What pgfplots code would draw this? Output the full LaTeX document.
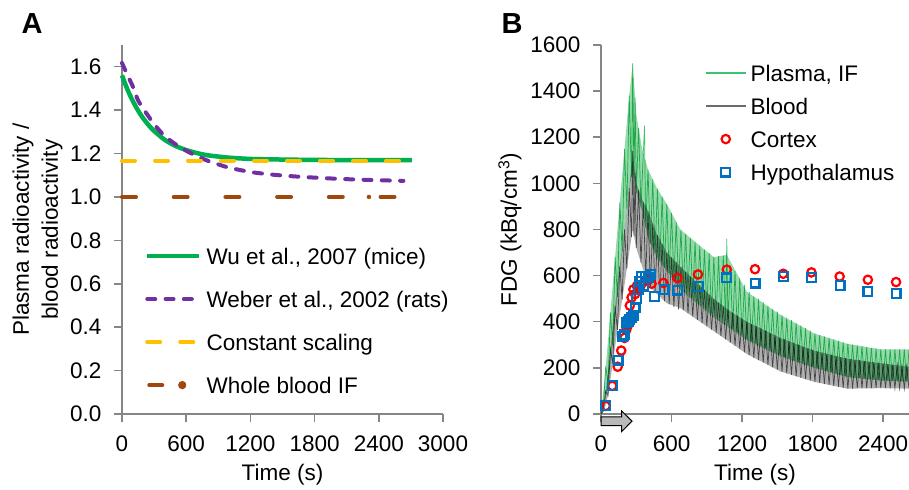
\documentclass[border=0pt]{standalone}
\usepackage{fontspec}
\setmainfont{Liberation Sans}
\usepackage{pgfplots}
\pgfplotsset{compat=1.18}
\definecolor{axgray}{RGB}{134,134,134}
\definecolor{wugreen}{RGB}{0,176,80}
\definecolor{webpurple}{RGB}{112,48,160}
\definecolor{constyellow}{RGB}{255,192,0}
\definecolor{wbbrown}{RGB}{158,72,14}
\definecolor{plasmaline}{RGB}{60,195,110}
\definecolor{plasmafill}{RGB}{120,210,150}
\definecolor{bloodline}{RGB}{70,70,70}
\definecolor{bloodfill}{RGB}{150,150,150}
\definecolor{cortexred}{RGB}{255,0,0}
\definecolor{hypoblue}{RGB}{0,112,192}
\newcommand{\fs}{\fontsize{22.5bp}{27bp}\selectfont}
\pgfplotsset{
  panel/.style={
    scale only axis,
    axis lines=left,
    axis line style={-, draw=axgray, line width=1.5bp},
    tick style={draw=axgray, line width=1.5bp},
    tick align=outside,
    major tick length=8bp,
    scaled ticks=false,
    /pgf/number format/assume math mode=true,
    /pgf/number format/1000 sep={},
    tick label style={font=\fs, black},
    xticklabel style={yshift=-10bp},
    yticklabel style={xshift=-9bp},
    legend cell align=left,
    clip=false,
  }
}
\begin{document}
\begin{tikzpicture}
\useasboundingbox (0,0) rectangle (909bp,490bp);
% ---------------- Panel A ----------------
\begin{axis}[panel,
  at={(122bp,76bp)}, anchor=south west,
  width=321bp, height=369bp,
  xmin=0, xmax=3000, ymin=0, ymax=1.7,
  xtick={0,600,1200,1800,2400,3000},
  ytick={0,0.2,0.4,0.6,0.8,1.0,1.2,1.4,1.6},
  yticklabel style={/pgf/number format/.cd, fixed, fixed zerofill, precision=1},
  xlabel={Time (s)},
  ylabel={Plasma radioactivity /\\blood radioactivity},
  every axis x label/.style={at={(axis description cs:0.5,-0.165)}, anchor=center, font=\fs},
  every axis y label/.style={at={(axis description cs:-0.263,0.5)}, rotate=90, anchor=center, align=center, font=\fontsize{22.5bp}{29bp}\selectfont},
  legend style={at={(0.0717,0.455)}, anchor=north west, draw=none, fill=none,
    inner sep=0pt, outer sep=0pt, font=\fs, row sep=23bp, column sep=5bp,
    nodes={inner sep=0pt, text height=18bp, text depth=2bp}},
  legend image code/.code={\draw[#1] (0bp,0bp) -- (52bp,0bp);},
]
\addplot[wugreen, line width=4.5bp, smooth] coordinates {
(0,1.560)(50,1.496)(100,1.443)(150,1.398)(200,1.361)(250,1.330)(300,1.304)(400,1.263)(500,1.235)(600,1.216)(700,1.202)(800,1.192)(900,1.186)(1000,1.181)(1200,1.175)(1400,1.173)(1700,1.171)(2000,1.170)(2400,1.170)(2708,1.170)};
\addlegendentry{Wu et al., 2007 (mice)}
\addplot[webpurple, line width=4bp, line cap=round, dash pattern=on 8bp off 10.3bp, smooth] coordinates {
(0,1.617)(50,1.562)(100,1.510)(150,1.445)(200,1.405)(250,1.370)(300,1.335)(400,1.280)(500,1.243)(600,1.213)(700,1.188)(800,1.167)(900,1.150)(1000,1.135)(1200,1.115)(1400,1.103)(1600,1.095)(1800,1.089)(2000,1.084)(2200,1.080)(2400,1.077)(2630,1.074)};
\addlegendentry{Weber et al., 2002 (rats)}
\addplot[constyellow, line width=4bp, line cap=round, dash pattern=on 13bp off 20bp] coordinates {(0,1.167)(2708,1.167)};
\addlegendentry{Constant scaling}
\addplot[wbbrown, line width=4bp, line cap=round, dash pattern=on 14bp off 37.7bp,
  legend image code/.code={\draw[wbbrown, line width=4bp, line cap=round] (2bp,0bp) -- (15bp,0bp); \fill[wbbrown] (35bp,0bp) circle (2bp);}] coordinates {(0,1.0)(2630,1.0)};
\addlegendentry{Whole blood IF}
\addplot[only marks, mark=*, mark size=2bp, wbbrown, forget plot] coordinates {(2308,1.0)};
\end{axis}
% ---------------- Panel B ----------------
\begin{axis}[panel,
  at={(601bp,76bp)}, anchor=south west,
  width=308bp, height=369bp,
  xmin=0, xmax=2620, ymin=0, ymax=1600,
  xtick={0,600,1200,1800,2400},
  ytick={0,200,400,600,800,1000,1200,1400,1600},
  xlabel={Time (s)},
  ylabel={FDG (kBq/cm\textsuperscript{3})},
  every axis x label/.style={at={(axis description cs:0.5,-0.165)}, anchor=center, font=\fs},
  every axis y label/.style={at={(axis description cs:-0.2955,0.5)}, rotate=90, anchor=center, font=\fs},
  legend style={at={(0.3377,0.951)}, anchor=north west, draw=none, fill=none,
    inner sep=0pt, outer sep=0pt, font=\fs, row sep=13bp, column sep=4bp,
    nodes={inner sep=0pt, text height=18bp, text depth=2bp}},
  legend image code/.code={\draw[mark repeat=2, mark phase=2, #1] plot coordinates {(0bp,0bp) (20bp,0bp) (40bp,0bp)};},
]
\addlegendimage{plasmaline, line width=1.5bp}
\addlegendentry{Plasma, IF}
\addlegendimage{bloodline!80, line width=1.5bp}
\addlegendentry{Blood}
% blood band
\addplot[draw=none, fill=bloodfill, fill opacity=0.75, forget plot] coordinates {
(0,0)(30,60)(60,180)(100,380)(150,600)(200,800)(240,980)(270,1140)(300,1000)(350,930)(400,880)(475,780)(560,700)(673,640)(815,570)(957,500)(1100,445)(1241,400)(1525,330)(1810,275)(2093,240)(2380,220)(2620,205)
(2620,110)(2380,112)(2093,110)(1810,140)(1525,185)(1241,260)(1100,310)(957,360)(815,410)(673,460)(560,480)(475,520)(400,560)(350,640)(300,720)(270,800)(240,700)(200,560)(150,400)(100,220)(60,80)(30,20)(0,0)} -- cycle;
\addplot[bloodline, line width=0.7bp, forget plot] coordinates {
(0,0)(20,13)(40,100)(60,80)(80,280)(100,220)(120,468)(140,364)(160,640)(180,496)(200,800)(220,630)(240,980)(260,767)(270,1140)(280,773)(290,1047)(300,720)(320,972)(340,656)(360,920)(380,592)(400,880)(420,549)(440,827)(460,528)(480,775)(500,508)(520,738)(540,489)(560,700)(580,475)(600,679)(620,464)(640,658)(660,454)
(680,637)(700,450)(720,617)(740,436)(760,597)(780,422)(800,577)(820,408)(840,558)(860,394)(880,538)(900,380)(920,518)(940,366)(960,499)(980,352)(1000,483)(1020,338)(1040,468)(1060,324)(1080,453)(1100,310)
(1120,439)(1140,296)(1160,426)(1180,282)(1200,413)(1220,267)(1240,400)(1260,255)(1280,390)(1300,244)(1320,381)(1340,234)(1360,371)(1380,223)(1400,361)(1420,213)(1440,351)(1460,202)(1480,341)(1500,192)(1520,331)
(1540,183)(1560,323)(1580,176)(1600,316)(1620,170)(1640,308)(1660,163)(1680,300)(1700,157)(1720,292)(1740,151)(1760,285)(1780,145)(1800,277)(1820,139)(1840,271)(1860,135)(1880,266)(1900,130)(1920,261)(1940,126)(1960,256)(1980,122)(2000,251)
(2020,118)(2040,247)(2060,113)(2080,242)(2100,110)(2120,238)(2140,110)(2160,235)(2180,111)(2200,233)(2220,111)(2240,230)(2260,111)(2280,227)(2300,112)(2320,224)(2340,112)(2360,221)(2380,112)(2400,219)(2420,112)(2440,216)(2460,111)(2480,213)(2500,111)(2520,211)(2540,111)(2560,209)(2580,110)(2600,206)(2620,110)};
% plasma band
\addplot[draw=none, fill=plasmafill, fill opacity=0.8, blend mode=multiply, forget plot] coordinates {
(0,0)(30,150)(60,320)(100,560)(150,860)(200,1150)(240,1380)(270,1520)(300,1300)(350,1150)(400,1060)(475,980)(560,910)(675,800)(815,740)(960,680)(1070,690)(1240,530)(1525,430)(1810,350)(2090,305)(2380,280)(2620,280)
(2620,140)(2380,145)(2093,160)(1810,200)(1525,250)(1241,320)(1100,370)(957,420)(815,480)(673,540)(560,620)(475,680)(400,760)(350,880)(300,960)(270,1050)(240,980)(200,800)(150,560)(100,300)(60,130)(30,40)(0,0)} -- cycle;
\addplot[plasmaline, line width=0.7bp, blend mode=multiply, forget plot] coordinates {
(0,0)(20,27)(40,207)(60,130)(80,440)(100,300)(120,680)(140,508)(160,918)(180,704)(200,1150)(220,890)(240,1380)(260,1027)(270,1520)(280,1020)(290,1373)(300,960)(320,1240)(340,896)(360,1132)(370,1250)(380,808)(400,1060)(420,739)(440,1017)(460,696)(480,976)(500,662)(520,943)(540,634)(560,910)(580,610)(600,872)(620,589)(640,833)(660,568)
(680,798)(700,548)(720,781)(740,528)(760,764)(780,508)(800,746)(820,488)(840,730)(860,471)(880,713)(900,455)(920,697)(940,438)(960,680)(980,425)(1000,684)(1020,414)(1040,687)(1060,403)(1070,760)(1080,395)
(1100,640)(1120,370)(1140,620)(1160,356)(1180,590)(1200,342)(1220,560)(1240,327)(1260,530)(1280,315)(1300,510)(1320,305)(1340,500)(1360,296)(1380,485)(1400,286)(1420,470)(1440,276)(1460,455)(1480,266)(1500,445)(1520,256)
(1540,430)(1560,247)(1580,418)(1600,240)(1620,407)(1640,233)(1660,395)(1680,226)(1700,384)(1720,219)(1740,373)(1760,212)(1780,362)(1800,205)(1820,350)(1840,199)(1860,343)(1880,193)(1900,337)(1920,187)(1940,330)(1960,182)(1980,324)(2000,176)
(2020,317)(2040,170)(2060,311)(2080,165)(2100,305)(2120,160)(2140,301)(2160,158)(2180,297)(2200,156)(2220,294)(2240,154)(2260,291)(2280,151)(2300,287)(2320,149)(2340,284)(2360,147)(2380,281)(2400,145)(2420,280)(2440,145)(2460,280)(2480,143)(2500,280)(2520,142)(2540,280)(2560,141)(2580,280)(2600,140)(2620,280)};
% brain regions
\addplot[only marks, mark=o, mark size=4.2bp, cortexred, line width=2.2bp] coordinates {
(40,35)(96,122)(142,205)(172,275)(200,330)(215,365)(230,385)(245,470)(260,505)(275,540)(290,520)(305,555)(320,545)(340,560)(370,575)(400,580)(430,565)(530,568)(650,590)(825,605)(1070,626)(1310,628)(1550,608)(1790,614)(2030,596)(2270,582)(2510,572)};
\addlegendentry{Cortex}
\addplot[only marks, mark=square, mark size=4.4bp, hypoblue, line width=2.2bp] coordinates {
(40,38)(96,124)(145,234)(180,335)(200,345)(215,395)(230,400)(245,410)(260,420)(275,425)(290,460)(300,500)(315,540)(330,575)(345,597)(365,555)(380,598)(400,590)(420,607)(454,510)(536,540)(650,537)(828,553)(1070,590)(1310,568)(1552,597)(1793,592)(2034,556)(2270,532)(2511,522)};
\addlegendentry{Hypothalamus}
% infusion arrow
\draw[fill=gray!55, draw=black, line width=1bp] (axis cs:0,-12) -- (axis cs:176,-12) -- (axis cs:176,13) -- (axis cs:264,-31) -- (axis cs:176,-76) -- (axis cs:176,-50) -- (axis cs:0,-50) -- cycle;
\end{axis}
\node[font=\bfseries\fontsize{29bp}{29bp}\selectfont] at (32bp,466bp) {A};
\node[font=\bfseries\fontsize{29bp}{29bp}\selectfont] at (512bp,466bp) {B};
\end{tikzpicture}
\end{document}
